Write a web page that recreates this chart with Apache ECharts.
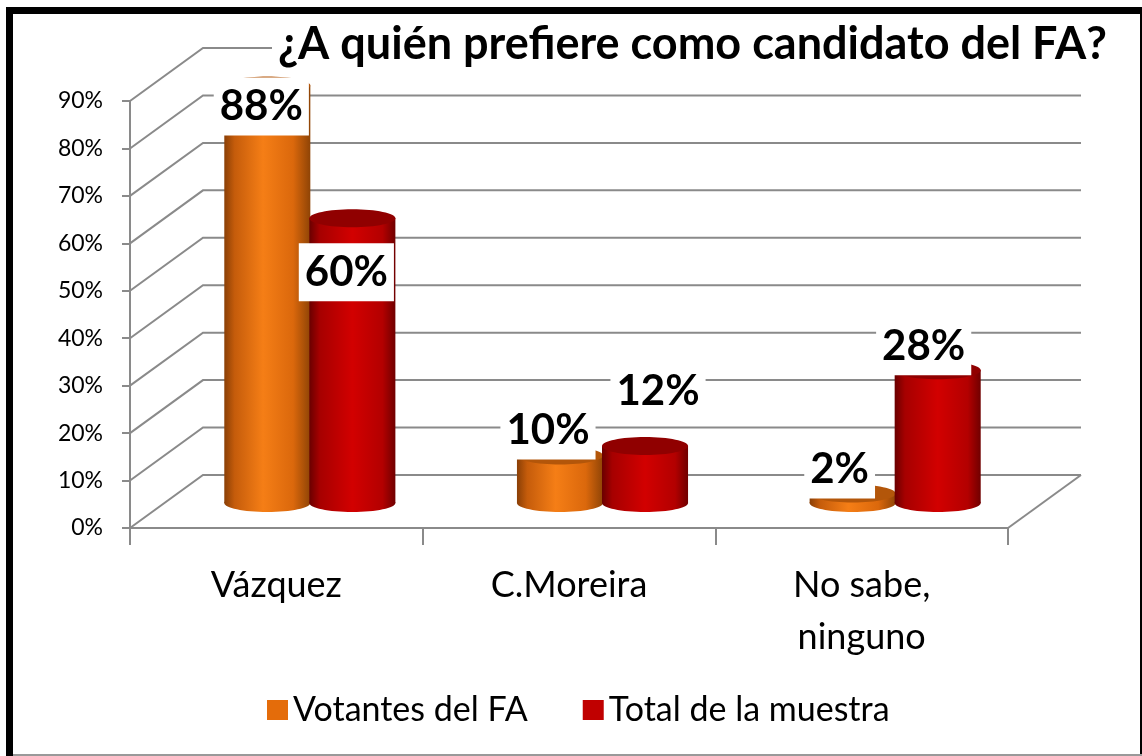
<!DOCTYPE html>
<html>
<head>
<meta charset="utf-8">
<script src="https://cdn.jsdelivr.net/npm/echarts@6/dist/echarts.min.js"></script>
<style>
  html, body { margin: 0; padding: 0; background: #fff; }
  #chart { width: 1142px; height: 756px; }
</style>
</head>
<body>
<div id="chart"></div>
<script>
// datos del gráfico
const categories = ["Vázquez", "C.Moreira", "No sabe,\nninguno"];
const seriesNames = ["Votantes del FA", "Total de la muestra"];
const votantesFA = [0.88, 0.10, 0.02];
const totalMuestra = [0.60, 0.12, 0.28];
const yTicks = [0, 0.1, 0.2, 0.3, 0.4, 0.5, 0.6, 0.7, 0.8, 0.9];

// perspectiva 3D (pared trasera y plano de las barras)
const DEPTH = { dx: 73, dy: -53 };
const BAR = { dx: 34, dy: -25 };
const FONT = "Lato";
const GRID_COLOR = "#8a8a8a";

// desplazamiento de etiquetas (como en Excel)
const labelOffsetFA = [[-6, 21], [-12, -25], [-13, -24]];
const labelOffsetTotal = [[-6, 54], [13, -55], [-14, -24]];

const chart = echarts.init(document.getElementById("chart"));

function wallRender(params, api) {
  const v = api.value(0);
  const cs = params.coordSys;
  const p = api.coord([0, v]);
  const xl = cs.x, xr = cs.x + cs.width, y = p[1];
  const children = [{
    type: "polyline",
    shape: { points: [[xl, y], [xl + DEPTH.dx, y + DEPTH.dy], [xr + DEPTH.dx, y + DEPTH.dy]] },
    style: { stroke: GRID_COLOR, lineWidth: 2, fill: null }
  }];
  if (v === 0) {
    children.push({
      type: "line",
      shape: { x1: xr, y1: y, x2: xr + DEPTH.dx, y2: y + DEPTH.dy },
      style: { stroke: GRID_COLOR, lineWidth: 2 }
    });
  }
  return { type: "group", children };
}

function cylinder(side, body, topColor, offsets) {
  return function (params, api) {
    const idx = api.value(0);
    const v = api.value(1);
    const base = api.coord([idx, 0]);
    const top = api.coord([idx, v]);
    const w = api.size([1, 0])[0] * 0.294;
    const cx = base[0] + BAR.dx;
    const x0 = side < 0 ? cx - w : cx - 1;
    const yb = base[1] + BAR.dy;
    const yt = top[1] + BAR.dy;
    const ry = 9;
    const mid = x0 + w / 2;
    const off = offsets[idx];
    return {
      type: "group",
      children: [
        { type: "ellipse", shape: { cx: mid, cy: yb, rx: w / 2, ry }, style: { fill: body } },
        { type: "rect", shape: { x: x0, y: yt, width: w, height: yb - yt }, style: { fill: body } },
        { type: "ellipse", shape: { cx: mid, cy: yt, rx: w / 2, ry }, style: { fill: topColor } },
        {
          type: "text", z2: 10,
          x: mid + off[0], y: yt + off[1],
          style: {
            text: Math.round(v * 100) + "%",
            fill: "#000",
            fontFamily: FONT, fontWeight: "bold", fontSize: 42,
            align: "center", verticalAlign: "middle",
            backgroundColor: "#fff", padding: [9, 6, 7, 6]
          }
        }
      ]
    };
  };
}

const orangeBody = new echarts.graphic.LinearGradient(0, 0, 1, 0, [
  { offset: 0, color: "#8a3f06" },
  { offset: 0.12, color: "#c55c0b" },
  { offset: 0.45, color: "#f57e16" },
  { offset: 0.8, color: "#db680c" },
  { offset: 1, color: "#8f4406" }
]);
const redBody = new echarts.graphic.LinearGradient(0, 0, 1, 0, [
  { offset: 0, color: "#6a0000" },
  { offset: 0.12, color: "#a60000" },
  { offset: 0.5, color: "#d20000" },
  { offset: 0.85, color: "#b30000" },
  { offset: 1, color: "#700000" }
]);

const option = {
  backgroundColor: "#fff",
  animation: false,
  title: {
    text: "¿A quién prefiere como candidato del FA?",
    left: 272, top: 18,
    backgroundColor: "#fff",
    padding: [4, 6],
    textStyle: { fontFamily: FONT, fontWeight: "bold", fontSize: 45, color: "#000" }
  },
  legend: {
    left: 262, bottom: 24,
    icon: "rect", itemWidth: 21, itemHeight: 20, itemGap: 55,
    textStyle: { fontFamily: FONT, fontSize: 34, color: "#000" },
    data: seriesNames
  },
  grid: { left: 130, right: 134, top: 101, bottom: 228 },
  xAxis: {
    type: "category",
    data: categories,
    axisLine: { lineStyle: { color: GRID_COLOR, width: 2 } },
    axisTick: { show: true, length: 17, lineStyle: { color: GRID_COLOR, width: 2 } },
    axisLabel: { fontFamily: FONT, fontSize: 36, color: "#000", margin: 31, lineHeight: 52 }
  },
  yAxis: {
    type: "value",
    min: 0, max: 0.9, interval: 0.1,
    axisLine: { show: true, lineStyle: { color: GRID_COLOR, width: 2 } },
    axisTick: { show: true, length: 8, lineStyle: { color: GRID_COLOR, width: 2 } },
    splitLine: { show: false },
    axisLabel: {
      fontFamily: FONT, fontSize: 23, color: "#000", margin: 27,
      formatter: v => Math.round(v * 100) + "%"
    }
  },
  graphic: [
    { type: "rect", shape: { x: 9.5, y: 10.5, width: 1134, height: 800 }, style: { fill: null, stroke: "#000", lineWidth: 7 }, z: 100 },
    { type: "line", shape: { x1: 13, y1: 755, x2: 1142, y2: 755 }, style: { stroke: "#999", lineWidth: 2 }, z: 100 }
  ],
  series: [
    {
      type: "custom", name: "pared", z: 1, silent: true,
      renderItem: wallRender,
      data: yTicks.map(t => [t]),
      encode: { y: 0 }
    },
    {
      type: "custom", name: seriesNames[0], z: 3,
      itemStyle: { color: "#E46C0A" },
      renderItem: cylinder(-1, orangeBody, "#b3560a", labelOffsetFA),
      data: categories.map((c, i) => [i, votantesFA[i]]),
      encode: { x: 0, y: 1 }
    },
    {
      type: "custom", name: seriesNames[1], z: 4,
      itemStyle: { color: "#C00000" },
      renderItem: cylinder(1, redBody, "#900000", labelOffsetTotal),
      data: categories.map((c, i) => [i, totalMuestra[i]]),
      encode: { x: 0, y: 1 }
    }
  ]
};

chart.setOption(option);
</script>
</body>
</html>
